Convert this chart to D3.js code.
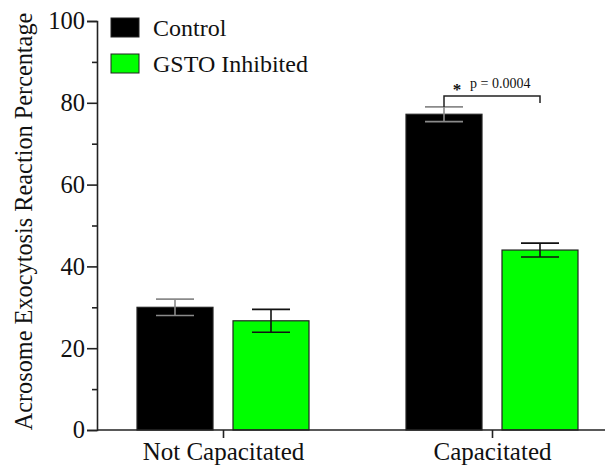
<!DOCTYPE html>
<html><head><meta charset="utf-8">
<script src="https://cdn.jsdelivr.net/npm/d3@7"></script>
<style>body{margin:0;background:#fff}svg{display:block}text{font-family:"Liberation Serif","Times New Roman",serif;fill:#111}</style>
</head><body><svg id="c" width="606" height="466"></svg>
<script>
const categories = ["Not Capacitated", "Capacitated"];
const series = ["Control", "GSTO Inhibited"];
const controlValues = [30.0, 77.2];
const controlErrors = [2.0, 1.8];
const gstoValues = [26.7, 44.0];
const gstoErrors = [2.8, 1.7];
const yTicks = [0, 20, 40, 60, 80, 100];
const yMinorTicks = [10, 30, 50, 70, 90];
const sigLabel = "p = 0.0004";

const colors = {"Control": "#000000", "GSTO Inhibited": "#00ff00"};
const errColors = {"Control": "#8a8a8a", "GSTO Inhibited": "#111111"};

const svg = d3.select("#c");
const axisLeft = 97, axisRight = 605;
const y = d3.scaleLinear().domain([0, 100]).range([430, 21]);
const x = d3.scalePoint().domain(categories).range([223, 492]);
const xSub = d3.scaleBand().domain(series).range([-86, 86]).paddingInner(20/96);

const data = [];
categories.forEach((c, i) => {
  data.push({cat: c, s: "Control", v: controlValues[i], e: controlErrors[i]});
  data.push({cat: c, s: "GSTO Inhibited", v: gstoValues[i], e: gstoErrors[i]});
});

// bars
svg.append("g").selectAll("rect").data(data).join("rect")
  .attr("x", d => x(d.cat) + xSub(d.s))
  .attr("y", d => y(d.v))
  .attr("width", xSub.bandwidth())
  .attr("height", d => y(0) - y(d.v))
  .attr("fill", d => colors[d.s])
  .attr("stroke", "#222").attr("stroke-width", 1.2);

// error bars
const capW = 38;
const eg = svg.append("g");
data.forEach(d => {
  const cx = x(d.cat) + xSub(d.s) + xSub.bandwidth() / 2;
  const g = eg.append("g").attr("stroke", errColors[d.s]).attr("stroke-width", 1.6);
  g.append("line").attr("x1", cx).attr("x2", cx).attr("y1", y(d.v - d.e)).attr("y2", y(d.v + d.e));
  g.append("line").attr("x1", cx - capW/2).attr("x2", cx + capW/2).attr("y1", y(d.v + d.e)).attr("y2", y(d.v + d.e));
  g.append("line").attr("x1", cx - capW/2).attr("x2", cx + capW/2).attr("y1", y(d.v - d.e)).attr("y2", y(d.v - d.e));
});

// y axis
const yAxis = d3.axisLeft(y).tickValues(yTicks).tickSize(10).tickPadding(2).tickFormat(d3.format("d"));
const gy = svg.append("g").attr("transform", `translate(${axisLeft},0)`).call(yAxis);
gy.select(".domain").attr("stroke", "#222").attr("stroke-width", 1.6);
gy.selectAll(".tick line").attr("stroke", "#222").attr("stroke-width", 1.6);
gy.selectAll(".tick text").attr("font-size", 24.5).attr("fill", "#111");
const gyMinor = svg.append("g").attr("transform", `translate(${axisLeft},0)`)
  .call(d3.axisLeft(y).tickValues(yMinorTicks).tickSize(5).tickFormat(""));
gyMinor.select(".domain").remove();
gyMinor.selectAll(".tick line").attr("stroke", "#222").attr("stroke-width", 1.6);

// x axis
const gx = svg.append("g").attr("transform", `translate(0,${y(0)})`)
  .call(d3.axisBottom(x).tickSize(8).tickPadding(4));
gx.select(".domain").remove();
gx.append("line").attr("x1", axisLeft).attr("x2", axisRight).attr("y1", 0).attr("y2", 0)
  .attr("stroke", "#222").attr("stroke-width", 1.6);
gx.selectAll(".tick line").attr("stroke", "#222").attr("stroke-width", 1.6);
gx.selectAll(".tick text").attr("font-size", 25).attr("fill", "#111");

// y title
svg.append("text")
  .attr("transform", `translate(32,221.5) rotate(-90)`)
  .attr("text-anchor", "middle").attr("font-size", 24.3)
  .text("Acrosome Exocytosis Reaction Percentage");

// legend
const lg = svg.append("g");
series.forEach((s, i) => {
  const yy = 18 + i * 36;
  lg.append("rect").attr("x", 111).attr("y", yy).attr("width", 28).attr("height", 19)
    .attr("fill", colors[s]).attr("stroke", "#222").attr("stroke-width", 1);
  lg.append("text").attr("x", 153).attr("y", yy + 18).attr("font-size", 24).text(s);
});

// significance bracket
const c1 = x(categories[1]) + xSub("Control") + xSub.bandwidth()/2;
const c2 = x(categories[1]) + xSub("GSTO Inhibited") + xSub.bandwidth()/2;
const topErr = y(controlValues[1] + controlErrors[1]);
const by = topErr - 11;
svg.append("path")
  .attr("d", `M${c1},${topErr} V${by} H${c2} V${by + 7}`)
  .attr("fill", "none").attr("stroke", "#222").attr("stroke-width", 1.5);
svg.append("text").attr("x", 457).attr("y", by - 1).attr("text-anchor", "middle")
  .attr("font-size", 17).attr("font-weight", "bold").text("*");
svg.append("text").attr("x", 470).attr("y", by - 8).attr("font-size", 14).text(sigLabel);
</script></body></html>
